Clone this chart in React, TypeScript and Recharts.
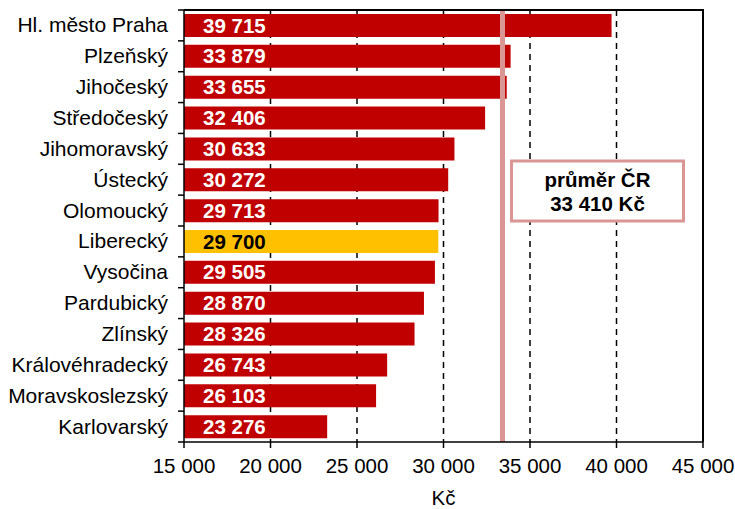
import React from "react";
import {
  BarChart,
  Bar,
  XAxis,
  YAxis,
  CartesianGrid,
  ReferenceLine,
  LabelList,
  Cell,
} from "recharts";

const regions = [
  "Hl. město Praha",
  "Plzeňský",
  "Jihočeský",
  "Středočeský",
  "Jihomoravský",
  "Ústecký",
  "Olomoucký",
  "Liberecký",
  "Vysočina",
  "Pardubický",
  "Zlínský",
  "Královéhradecký",
  "Moravskoslezský",
  "Karlovarský",
];
const wages = [
  39715, 33879, 33655, 32406, 30633, 30272, 29713, 29700, 29505, 28870, 28326,
  26743, 26103, 23276,
];
const highlight = "Liberecký";
const average = 33410;
const xTicks = [15000, 20000, 25000, 30000, 35000, 40000, 45000];
const gridValues = [20000, 25000, 30000, 35000, 40000];

const FONT = "'Liberation Sans', Arial, sans-serif";
const RED = "#C00000";
const YELLOW = "#FFC000";
const PINK = "#DA9694";

const W = 735;
const H = 509;
const M = { top: 10, right: 32, bottom: 0, left: 0 };
const Y_WIDTH = 184;
const X_HEIGHT = 67;
const PLOT_LEFT = M.left + Y_WIDTH;
const PLOT_W = W - M.right - PLOT_LEFT;
const PLOT_H = H - M.top - M.bottom - X_HEIGHT;
const HALF_BAND = PLOT_H / regions.length / 2;

const fmt = (v: number) =>
  String(v).replace(/\B(?=(\d{3})+(?!\d))/g, " ");

const data = regions.map((name, i) => ({ name, value: wages[i] }));

function RegionTick(props: any) {
  const { x, y, payload, index } = props;
  const axisX = x + 16;
  return (
    <g>
      <text
        x={x}
        y={y}
        dy={7}
        textAnchor="end"
        fontFamily={FONT}
        fontSize={21}
        fill="#000"
      >
        {payload.value}
      </text>
      {index === 0 && (
        <line x1={axisX - 6} x2={axisX} y1={y - HALF_BAND} y2={y - HALF_BAND} stroke="#000" strokeWidth={1.5} />
      )}
      <line x1={axisX - 6} x2={axisX} y1={y + HALF_BAND} y2={y + HALF_BAND} stroke="#000" strokeWidth={1.5} />
    </g>
  );
}

function ValueLabel(props: any) {
  const { x, y, height, value, index } = props;
  const dark = regions[index] === highlight;
  return (
    <text
      x={x + 19}
      y={y + height / 2}
      dy={7}
      fontFamily={FONT}
      fontSize={20.5}
      fontWeight="bold"
      fill={dark ? "#000" : "#fff"}
    >
      {fmt(value)}
    </text>
  );
}

// average box; also draws the solid frame round the plot area
function AverageBox(props: any) {
  const { viewBox } = props;
  const bx = viewBox.x + 9;
  const by = M.top + 151;
  const bw = 172;
  const bh = 60;
  return (
    <g>
      <path
        d={`M${PLOT_LEFT},${M.top}H${PLOT_LEFT + PLOT_W}V${M.top + PLOT_H}`}
        fill="none"
        stroke="#000"
        strokeWidth={2}
      />
      <rect x={bx} y={by} width={bw} height={bh} fill="#fff" stroke={PINK} strokeWidth={3} />
      <text x={bx + bw / 2} y={by + 26} textAnchor="middle" fontFamily={FONT} fontSize={20.5} fontWeight="bold" fill="#000">
        průměr ČR
      </text>
      <text x={bx + bw / 2} y={by + 50} textAnchor="middle" fontFamily={FONT} fontSize={20.5} fontWeight="bold" fill="#000">
        {fmt(average)} Kč
      </text>
    </g>
  );
}

export default function App() {
  return (
    <div style={{ position: "absolute", left: 0, top: 0, width: W, height: H, background: "#fff" }}>
      <BarChart
        width={W}
        height={H}
        data={data}
        layout="vertical"
        margin={M}
        barSize={23}
      >
        <CartesianGrid
          horizontal={false}
          vertical
          verticalValues={gridValues}
          stroke="#000"
          strokeWidth={1.5}
          strokeDasharray="6 5"
        />
        <XAxis
          type="number"
          domain={[15000, 45000]}
          ticks={xTicks}
          tickFormatter={fmt}
          height={X_HEIGHT}
          tickSize={6}
          tickMargin={10}
          axisLine={{ stroke: "#000", strokeWidth: 1.5 }}
          tickLine={{ stroke: "#000", strokeWidth: 1.5 }}
          tick={{ fill: "#000", fontSize: 20.5, fontFamily: FONT }}
          interval={0}
          allowDataOverflow
          label={{
            value: "Kč",
            position: "insideBottom",
            offset: 4,
            fill: "#000",
            fontSize: 20.5,
            fontFamily: FONT,
          }}
        />
        <YAxis
          type="category"
          dataKey="name"
          width={Y_WIDTH}
          tickSize={6}
          tickMargin={10}
          tickLine={false}
          axisLine={{ stroke: "#000", strokeWidth: 1.5 }}
          tick={<RegionTick />}
          interval={0}
        />
        <Bar dataKey="value" isAnimationActive={false}>
          {data.map((d) => (
            <Cell key={d.name} fill={d.name === highlight ? YELLOW : RED} />
          ))}
          <LabelList dataKey="value" content={<ValueLabel />} />
        </Bar>
        <ReferenceLine
          x={average}
          stroke={PINK}
          strokeWidth={5}
          label={<AverageBox />}
        />
      </BarChart>
    </div>
  );
}
